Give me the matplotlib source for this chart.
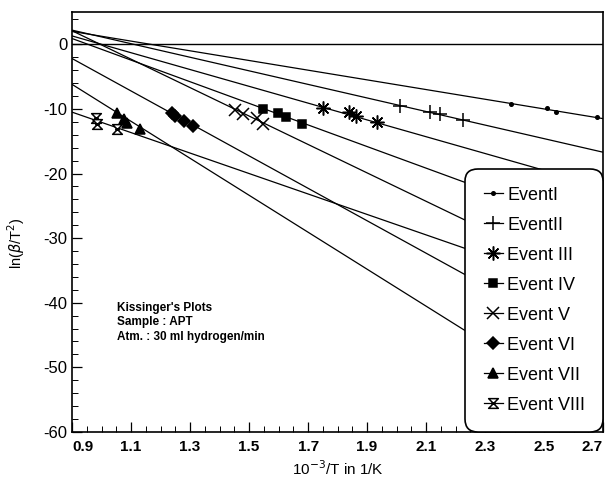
import matplotlib
matplotlib.use("Agg")
import matplotlib.pyplot as plt
from matplotlib.path import Path
import numpy as np

plt.rcParams['font.family'] = ['Liberation Sans', 'DejaVu Sans']
plt.rcParams['axes.unicode_minus'] = False

labels = ["EventI", "EventII", "Event III", "Event IV",
          "Event V", "Event VI", "Event VII", "Event VIII"]

# measured points (1000/T, ln(beta/T^2))
x1 = [2.388, 2.510, 2.541, 2.680]
y1 = [-9.3, -9.9, -10.5, -11.3]
x2 = [2.012, 2.114, 2.147, 2.225]
y2 = [-9.5, -10.5, -10.8, -11.7]
x3 = [1.751, 1.839, 1.863, 1.934]
y3 = [-9.8, -10.4, -11.1, -12.1]
x4 = [1.547, 1.598, 1.625, 1.680]
y4 = [-10.0, -10.6, -11.2, -12.3]
x5 = [1.453, 1.480, 1.527, 1.547]
y5 = [-10.2, -10.8, -11.4, -12.3]
x6 = [1.239, 1.249, 1.280, 1.310]
y6 = [-10.6, -11.1, -11.8, -12.6]
x7 = [1.053, 1.076, 1.086, 1.131]
y7 = [-10.6, -11.5, -12.2, -13.1]
x8 = [0.981, 0.983, 1.053]
y8 = [-11.4, -12.3, -13.1]

# fitted lines: value at x=0.9 and at x=2.7
fit_x = [0.9, 2.7]
fit_left = [2.0, 2.2, 1.3, 0.9, 2.1, -2.2, -6.2, -10.5]
fit_right = [-11.5, -16.7, -22.1, -29.2, -37.5, -47.4, -57.7, -39.0]

hourglass = Path([(-1, 1), (1, 1), (-1, -1), (1, -1), (-1, 1), (-0.5, 0), (0.5, 0)],
                 [Path.MOVETO, Path.LINETO, Path.LINETO, Path.LINETO, Path.CLOSEPOLY,
                  Path.MOVETO, Path.LINETO])
markers = ['.', '+', (8, 2, 0), 's', 'x', 'D', '^', hourglass]
msizes = [5, 10, 10, 5.5, 9, 6, 7.5, 7]
xs = [x1, x2, x3, x4, x5, x6, x7, x8]
ys = [y1, y2, y3, y4, y5, y6, y7, y8]

fig = plt.figure(figsize=(6.11, 4.82), dpi=100)
ax = fig.add_axes([0.118, 0.104, 0.869, 0.871])

ax.axhline(0, color='black', lw=1)

handles = []
for i in range(8):
    ln, = ax.plot(fit_x, [fit_left[i], fit_right[i]], color='black', lw=0.9)
    face = 'white' if i == 7 else 'black'
    pts, = ax.plot(xs[i], ys[i], ls='none', marker=markers[i], ms=msizes[i],
                   mfc=face, mec='black', mew=1.1)
    handles.append((ln, pts))

ax.set_xlim(0.9, 2.7)
ax.set_ylim(-60, 5)
xt = np.arange(0.9, 2.71, 0.2)
ax.set_xticks(xt)
ax.set_xticks(np.arange(0.9, 2.71, 0.05), minor=True)
ax.set_yticks(np.arange(-60, 1, 10))
ax.set_yticks(np.arange(-60, 5, 2), minor=True)
ax.set_xticklabels(["%.1f" % v for v in xt], fontsize=11, fontweight='bold')
xl = ax.get_xticklabels()
xl[0].set_horizontalalignment('left')
xl[-1].set_horizontalalignment('right')
for t in ax.get_yticklabels():
    t.set_fontsize(12)
ax.tick_params(which='both', direction='in', top=False, right=False)
ax.tick_params(which='major', length=7, width=0.9)
ax.tick_params(which='minor', length=4, width=0.7)
ax.tick_params(axis='x', pad=6)

ax.set_xlabel(r"10$^{-3}$/T in 1/K", fontsize=11, labelpad=4)
ax.set_ylabel(r"ln($\beta$/T$^2$)", fontsize=10.5)
ax.yaxis.set_label_coords(-0.085, 0.45)

ax.text(0.085, 0.31, "Kissinger's Plots\nSample : APT\nAtm. : 30 ml hydrogen/min",
        transform=ax.transAxes, fontsize=8.5, fontweight='bold', va='top',
        linespacing=1.3)

leg = ax.legend(handles, labels, loc='lower right', borderaxespad=0,
                fontsize=13, frameon=True, fancybox=True, framealpha=1,
                edgecolor='black', handlelength=1.1, handletextpad=0.2,
                labelspacing=0.72, borderpad=1.0)
leg.get_frame().set_linewidth(1.2)
leg.get_frame().set_boxstyle("round", pad=0, rounding_size=0.7)

for s in ax.spines.values():
    s.set_linewidth(1.2)

fig.savefig("out.png", dpi=100)
